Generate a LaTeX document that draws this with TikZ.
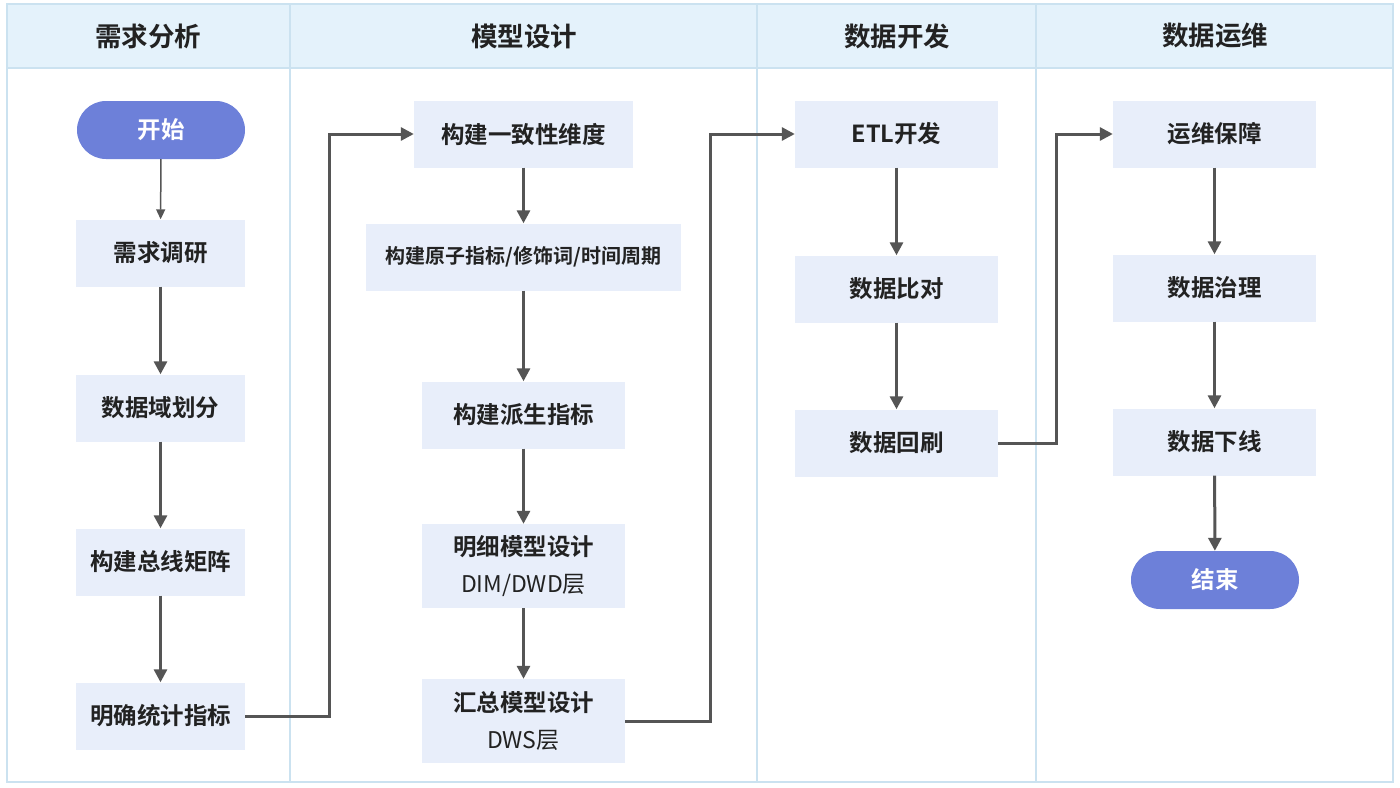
\documentclass[tikz,border=0pt]{standalone}
\usepackage{fontspec}
\setmainfont{Noto Sans CJK SC}
\newfontfamily\cjkb{Noto Sans CJK SC Bold}
\usetikzlibrary{arrows.meta,positioning}
\definecolor{hdrfill}{HTML}{E4F2FB}
\definecolor{gridline}{HTML}{CBE2F0}
\definecolor{boxfill}{HTML}{E8EEFA}
\definecolor{pill}{HTML}{6D80D9}
\definecolor{arrowc}{HTML}{555555}
\definecolor{txt}{HTML}{222222}
\tikzset{
  x=1pt,y=-1pt,
  procbox/.style={fill=boxfill,draw=none,minimum width=#1,minimum height=67pt,inner sep=0pt,
    font=\cjkb\fontsize{23.5}{28}\selectfont,text=txt,align=center},
  procbox/.default=169pt,
  pillbox/.style={fill=pill,draw=none,rounded corners=29pt,minimum width=168pt,minimum height=58pt,
    inner sep=0pt,font=\cjkb\fontsize{23.5}{28}\selectfont,text=white},
  hdr/.style={font=\cjkb\fontsize{26.5}{32}\selectfont,text=txt},
  flow/.style={draw=arrowc,line width=3pt,-{Triangle[length=13pt,width=13pt]}},
  thinflow/.style={draw=arrowc,line width=1.5pt,-{Triangle[length=10pt,width=9pt]}}
}
\newcommand{\sublabel}[1]{{\normalfont\fontsize{23}{26}\selectfont #1}}
\begin{document}
\begin{tikzpicture}
\useasboundingbox (0,0) rectangle (1400,787);
\fill[white] (0,0) rectangle (1400,787);
% header band
\fill[hdrfill] (7,4) rectangle (1393,68);
\draw[gridline,line width=1.5pt] (7,68) -- (1393,68);
\draw[gridline,line width=1.5pt] (7,4) rectangle (1393,782);
\foreach \xx in {290,757,1036} \draw[gridline,line width=1.5pt] (\xx,4) -- (\xx,782);
\node[hdr] (h1) at (148,36) {需求分析};
\node[hdr] (h2) at (524,36) {模型设计};
\node[hdr] (h3) at (897,36) {数据开发};
\node[hdr] (h4) at (1215,36) {数据运维};
% column 1
\node[pillbox] (start) at (161,130) {开始};
\node[procbox] (a1) at (160.5,253) {需求调研};
\node[procbox] (a2) at (160.5,408) {数据域划分};
\node[procbox] (a3) at (160.5,562) {构建总线矩阵};
\node[procbox] (a4) at (160.5,716) {明确统计指标};
% column 2
\node[procbox=219pt] (b1) at (523.5,134) {构建一致性维度};
\node[procbox=315pt,font=\cjkb\fontsize{20}{24}\selectfont] (b2) at (523.5,257) {构建原子指标/修饰词/时间周期};
\node[procbox=203pt] (b3) at (523.5,415) {构建派生指标};
\node[procbox=203pt,minimum height=84pt] (b4) at (523.5,566) {明细模型设计\\[9pt]\sublabel{DIM/DWD层}};
\node[procbox=203pt,minimum height=84pt] (b5) at (523.5,721) {汇总模型设计\\[9pt]\sublabel{DWS层}};
% column 3
\node[procbox=203pt] (c1) at (896.5,134) {ETL开发};
\node[procbox=203pt] (c2) at (896.5,289) {数据比对};
\node[procbox=203pt] (c3) at (896.5,443) {数据回刷};
% column 4
\node[procbox=203pt] (d1) at (1214.5,134) {运维保障};
\node[procbox=203pt] (d2) at (1214.5,288) {数据治理};
\node[procbox=203pt] (d3) at (1214.5,442) {数据下线};
\node[pillbox] (stop) at (1215,580) {结束};
% connectors
\draw[thinflow] (start) -- (a1);
\draw[flow] (a1) -- (a2);
\draw[flow] (a2) -- (a3);
\draw[flow] (a3) -- (a4);
\draw[flow] (a4.east) -- (329,716) -- (329,134) -- (b1.west);
\draw[flow] (b1) -- (b2);
\draw[flow] (b2) -- (b3);
\draw[flow] (b3) -- (b4);
\draw[flow] (b4) -- (b5);
\draw[flow] (b5.east) -- (710,721) -- (710,134) -- (c1.west);
\draw[flow] (c1) -- (c2);
\draw[flow] (c2) -- (c3);
\draw[flow] (c3.east) -- (1056,443) -- (1056,134) -- (d1.west);
\draw[flow] (d1) -- (d2);
\draw[flow] (d2) -- (d3);
\draw[flow] (d3) -- (stop);
\end{tikzpicture}
\end{document}
